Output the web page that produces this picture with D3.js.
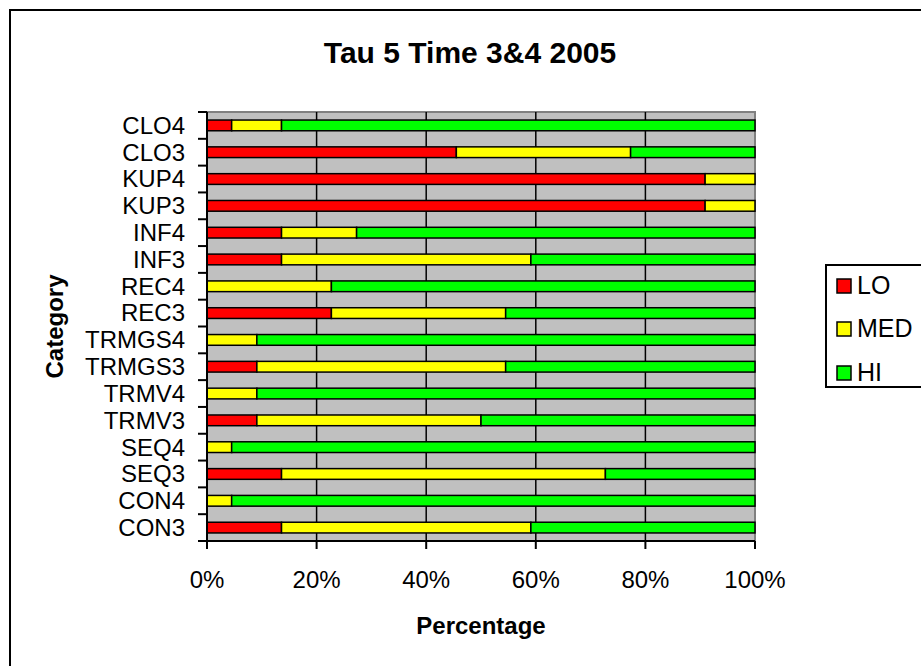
<!DOCTYPE html>
<html>
<head>
<meta charset="utf-8">
<script src="https://cdn.jsdelivr.net/npm/d3@7"></script>
<style>
  html, body { margin: 0; padding: 0; background: #fff; }
  svg { display: block; font-family: "Liberation Sans", Arial, sans-serif; }
</style>
</head>
<body>
<svg id="chart" width="921" height="666"></svg>
<script>
// ---- data (percentages) ----
const categories = ["CON3","CON4","SEQ3","SEQ4","TRMV3","TRMV4","TRMGS3","TRMGS4","REC3","REC4","INF3","INF4","KUP3","KUP4","CLO3","CLO4"];
const seriesNames = ["LO","MED","HI"];
const loValues  = [13.6, 0,    13.6, 0,    9.1,  0,    9.1,  0,    22.7, 0,    13.6, 13.6, 90.9, 90.9, 45.5, 4.5];
const medValues = [45.5, 4.5,  59.1, 4.5,  40.9, 9.1,  45.4, 9.1,  31.8, 22.7, 45.5, 13.7, 9.1,  9.1,  31.8, 9.1];
const hiValues  = [40.9, 95.5, 27.3, 95.5, 50.0, 90.9, 45.5, 90.9, 45.5, 77.3, 40.9, 72.7, 0,    0,    22.7, 86.4];
const xTickValues = [0, 20, 40, 60, 80, 100];
const xTickLabels = ["0%","20%","40%","60%","80%","100%"];
const colors = ["#FF0000", "#FFFF00", "#00FF00"];

const svg = d3.select("#chart");

// outer chart border (extends past the window on right/bottom)
svg.append("rect").attr("x", 10).attr("y", 10).attr("width", 1000).attr("height", 1000)
  .attr("fill", "#fff").attr("stroke", "#000").attr("stroke-width", 2);

const plot = { left: 207, right: 755, top: 112, bottom: 541 };

const x = d3.scaleLinear().domain([0, 100]).range([plot.left, plot.right]);
const yOrder = categories.slice().reverse(); // top to bottom
const y = d3.scaleBand().domain(yOrder).range([plot.top, plot.bottom])
  .paddingInner(0.6).paddingOuter(0.3);

// plot background
svg.append("rect").attr("x", plot.left).attr("y", plot.top)
  .attr("width", plot.right - plot.left).attr("height", plot.bottom - plot.top)
  .attr("fill", "#C0C0C0");
// top/right gray border
svg.append("path")
  .attr("d", `M${plot.left},${plot.top}H${plot.right}V${plot.bottom}`)
  .attr("fill", "none").attr("stroke", "#808080").attr("stroke-width", 2);

// vertical gridlines
svg.append("g").selectAll("line").data(xTickValues.filter(v => v > 0 && v < 100)).join("line")
  .attr("x1", d => x(d)).attr("x2", d => x(d))
  .attr("y1", plot.top).attr("y2", plot.bottom)
  .attr("stroke", "#000").attr("stroke-width", 1.5);

// stacked data
const rows = categories.map((c, i) => ({ cat: c, LO: loValues[i], MED: medValues[i], HI: hiValues[i] }));
const stack = d3.stack().keys(seriesNames)(rows);

stack.forEach((layer, si) => {
  svg.append("g").selectAll("rect").data(layer.filter(d => d[1] - d[0] > 0)).join("rect")
    .attr("x", d => x(d[0]))
    .attr("y", d => y(d.data.cat))
    .attr("width", d => x(Math.min(d[1], 100)) - x(d[0]))
    .attr("height", y.bandwidth())
    .attr("fill", colors[si])
    .attr("stroke", "#000").attr("stroke-width", 1.5);
});

// y axis
svg.append("line").attr("x1", plot.left).attr("x2", plot.left)
  .attr("y1", plot.top).attr("y2", plot.bottom).attr("stroke", "#000").attr("stroke-width", 2);
const step = y.step();
const yTickPos = d3.range(categories.length + 1).map(i => plot.top + i * step);
svg.append("g").selectAll("line").data(yTickPos).join("line")
  .attr("x1", plot.left - 9).attr("x2", plot.left)
  .attr("y1", d => d).attr("y2", d => d)
  .attr("stroke", "#000").attr("stroke-width", 2);
svg.append("g").selectAll("text").data(yOrder).join("text")
  .attr("x", 185)
  .attr("y", d => y(d) + y.bandwidth() / 2 + 2)
  .attr("text-anchor", "end").attr("dominant-baseline", "middle")
  .attr("font-size", 24).attr("fill", "#000")
  .text(d => d);

// x axis
svg.append("line").attr("x1", plot.left).attr("x2", plot.right)
  .attr("y1", plot.bottom).attr("y2", plot.bottom).attr("stroke", "#000").attr("stroke-width", 2);
svg.append("g").selectAll("line").data(xTickValues).join("line")
  .attr("x1", d => x(d)).attr("x2", d => x(d))
  .attr("y1", plot.bottom).attr("y2", plot.bottom + 8)
  .attr("stroke", "#000").attr("stroke-width", 2);
svg.append("g").selectAll("text").data(xTickValues).join("text")
  .attr("x", d => x(d)).attr("y", 588)
  .attr("text-anchor", "middle").attr("font-size", 24).attr("fill", "#000")
  .text((d, i) => xTickLabels[i]);

// title
svg.append("text").attr("x", 470).attr("y", 63).attr("text-anchor", "middle")
  .attr("font-size", 30).attr("font-weight", "bold").text("Tau 5 Time 3&4 2005");

// axis titles
svg.append("text").attr("x", (plot.left + plot.right) / 2).attr("y", 634)
  .attr("text-anchor", "middle").attr("font-size", 24).attr("font-weight", "bold").text("Percentage");
svg.append("text").attr("transform", `translate(63,${(plot.top + plot.bottom) / 2}) rotate(-90)`)
  .attr("text-anchor", "middle").attr("font-size", 24).attr("font-weight", "bold").text("Category");

// legend
const lg = svg.append("g");
lg.append("rect").attr("x", 826).attr("y", 265).attr("width", 200).attr("height", 122)
  .attr("fill", "#fff").attr("stroke", "#000").attr("stroke-width", 2);
const legendY = [279, 322, 366];
seriesNames.forEach((s, i) => {
  lg.append("rect").attr("x", 837).attr("y", legendY[i]).attr("width", 14).attr("height", 14)
    .attr("fill", colors[i]).attr("stroke", "#000").attr("stroke-width", 1.5);
  lg.append("text").attr("x", 857).attr("y", legendY[i] + 15)
    .attr("font-size", 25).attr("fill", "#000").text(s);
});
</script>
</body>
</html>
